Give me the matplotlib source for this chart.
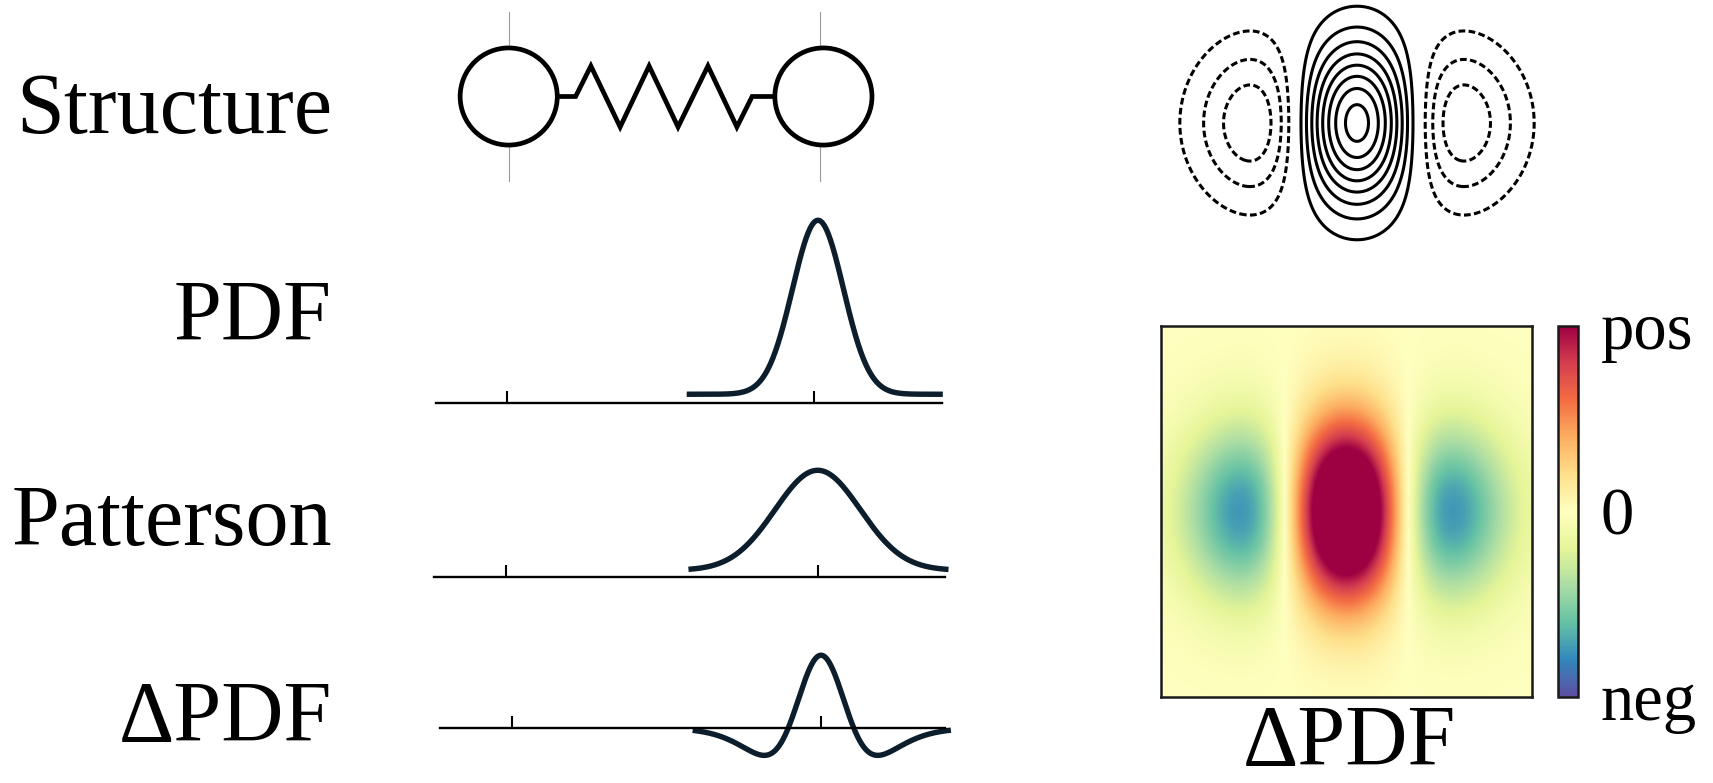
import numpy as np
import matplotlib
matplotlib.use("Agg")
import matplotlib.pyplot as plt
from matplotlib.patches import Circle

plt.rcParams['font.family'] = 'Liberation Serif'
plt.rcParams['lines.dashed_pattern'] = [2.2, 1.1]

# ---------------- data ----------------
row_labels = ['Structure', 'PDF', 'Patterson', '\u0394PDF']
map_label = '\u0394PDF'

atom_positions = [0.0, 1.011]
atom_radius = 0.156
guide_positions = [0.0, 1.0]
guide_half_length = 0.273
spring_x = [0.152, 0.215, 0.264, 0.358, 0.451, 0.544, 0.640, 0.733, 0.782, 0.856]
spring_y = [0.0, 0.0, 0.098, -0.098, 0.098, -0.098, 0.098, -0.098, 0.0, 0.0]

tick_positions = [0.0, 1.0]
curve_span = [0.585, 1.42]
pdf_center, pdf_sigma, pdf_height, pdf_base = 1.013, 0.083, 1.0, 0.052
patt_center, patt_sigma, patt_height, patt_base = 1.0, 0.137, 0.575, 0.04
dpdf_center = 1.0
dpdf_sigmas = [0.078, 0.155]
dpdf_amps = [0.84, 0.42]

map_x_range = [-3.0, 3.0]
map_y_range = [-2.7, 2.7]
contour_range = [-3.0, 3.0]
map_sigma_y = 0.915
color_limit = 0.6
contour_step = 0.1186
contour_multiples = [-3, -2, -1, 1, 2, 3, 4, 5, 6, 7, 8]
colorbar_ticks = [-0.6, 0.0, 0.6]
colorbar_labels = ['neg', '0', 'pos']

curve_color = '#0c1d2b'
guide_color = '#9a9a9a'
serif = 'Liberation Serif'

# ---------------- figure ----------------
W, H = 1713, 783
fig = plt.figure(figsize=(W / 100, H / 100), dpi=100)


def add_px(left, top, width, height):
    return fig.add_axes([left / W, 1 - (top + height) / H, width / W, height / H])


def row_axes(x0_px, x1_px, left, right, y_line, above, below, yscale=174.0):
    ax = add_px(left, y_line - above, right - left, above + below)
    u = x1_px - x0_px
    ax.set_xlim((left - x0_px) / u, (right - x0_px) / u)
    ax.set_ylim(-below / yscale, above / yscale)
    for s in ['left', 'right', 'top']:
        ax.spines[s].set_visible(False)
    ax.spines['bottom'].set_position(('data', 0))
    ax.spines['bottom'].set_linewidth(1.7)
    ax.set_xticks(tick_positions)
    ax.set_yticks([])
    ax.tick_params(axis='x', direction='in', length=8.6, width=1.5,
                   labelbottom=False)
    ax.patch.set_alpha(0)
    return ax


# Structure row
axs = add_px(436, 0, 506, 193)
u = 820 - 508.7
axs.set_xlim((436 - 508.7) / u, (942 - 508.7) / u)
axs.set_ylim(-96.5 / u, 96.5 / u)
axs.axis('off')
for gx in guide_positions:
    axs.plot([gx, gx], [-guide_half_length, guide_half_length],
             color=guide_color, lw=0.8, zorder=1)
axs.plot(spring_x, spring_y, color='black', lw=3.4, zorder=2,
         solid_joinstyle='miter', solid_capstyle='butt')
for ax_pos in atom_positions:
    axs.add_patch(Circle((ax_pos, 0), atom_radius, facecolor='white',
                         edgecolor='black', lw=3.4, zorder=3))

xc = np.linspace(curve_span[0], curve_span[1], 400)

# PDF row
ax1 = row_axes(507.3, 814, 436, 942, 403.3, 200, 10)
y1 = pdf_base + pdf_height * np.exp(-(xc - pdf_center) ** 2 / (2 * pdf_sigma ** 2))
ax1.plot(xc, y1, color=curve_color, lw=3.9, clip_on=False,
         solid_capstyle='butt')

# Patterson row
ax2 = row_axes(506.3, 817.7, 434, 945, 577.3, 200, 10)
y2 = patt_base + patt_height * np.exp(-(xc - patt_center) ** 2 / (2 * patt_sigma ** 2))
ax2.plot(xc, y2, color=curve_color, lw=3.9, clip_on=False,
         solid_capstyle='butt')

# Delta PDF row
ax3 = row_axes(511.7, 821, 440, 945, 728.3, 100, 50)
y3 = (dpdf_amps[0] * np.exp(-(xc - dpdf_center) ** 2 / (2 * dpdf_sigmas[0] ** 2))
      - dpdf_amps[1] * np.exp(-(xc - dpdf_center) ** 2 / (2 * dpdf_sigmas[1] ** 2)))
ax3.plot(xc, y3, color=curve_color, lw=3.9, clip_on=False,
         solid_capstyle='butt')

# Row labels
label_baselines = [133.3, 340, 545, 741]
for lab, yb in zip(row_labels, label_baselines):
    fig.text(332 / W, 1 - yb / H, lab, ha='right', va='baseline', fontsize=62,
             family=serif)


def field(x, y):
    return (1 - x ** 2) * np.exp(-x ** 2 / 2) * np.exp(-y ** 2 / (2 * map_sigma_y ** 2))


# Heat map
axm = add_px(1161, 325.7, 370.7, 371)
gx = np.linspace(map_x_range[0], map_x_range[1], 500)
gy = np.linspace(map_y_range[0], map_y_range[1], 500)
XX, YY = np.meshgrid(gx, gy)
im = axm.imshow(field(XX, YY), extent=[*map_x_range, *map_y_range],
                origin='lower', cmap='Spectral_r', vmin=-color_limit,
                vmax=color_limit, aspect='auto', interpolation='bilinear')
axm.set_xticks([])
axm.set_yticks([])
for s in axm.spines.values():
    s.set_linewidth(1.8)
    s.set_color('#1a1a1a')
fig.text(1349 / W, 1 - 765 / H, map_label, ha='center', va='baseline',
         fontsize=62, family=serif)

# Colorbar
cax = add_px(1557.7, 325.7, 20.6, 371)
cb = fig.colorbar(im, cax=cax, ticks=colorbar_ticks)
cb.set_ticklabels(colorbar_labels)
cb.outline.set_linewidth(1.8)
cb.outline.set_edgecolor('#1a1a1a')
cax.tick_params(length=0, pad=16, labelsize=48)
for t in cax.get_yticklabels():
    t.set_family(serif)

# Contour sketch
axc = add_px(1357 - 185.4, 123 - 185.4, 370.8, 370.8)
cx = np.linspace(contour_range[0], contour_range[1], 500)
CX, CY = np.meshgrid(cx, cx)
levels = [m * contour_step for m in contour_multiples]
axc.contour(CX, CY, field(CX, CY), levels=levels, colors='black',
            linewidths=2.2, negative_linestyles='dashed')
axc.set_xlim(*contour_range)
axc.set_ylim(*contour_range)
axc.axis('off')

fig.savefig('out.png', dpi=100)
